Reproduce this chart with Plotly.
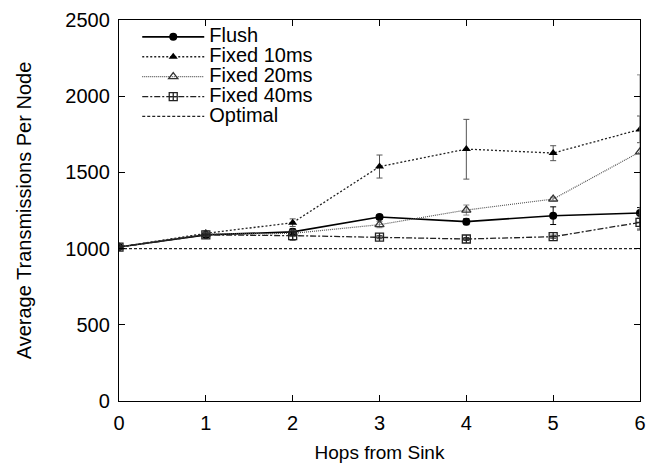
import plotly.graph_objects as go

hops = [0, 1, 2, 3, 4, 5, 6]

flush = [1010, 1090, 1110, 1207, 1177, 1216, 1234]
flush_err = [0, 15, 20, 15, 20, 58, 35]

fixed10 = [1010, 1100, 1170, 1538, 1653, 1627, 1782]
fixed10_err_hi = [0, 15, 25, 76, 195, 48, 88]
fixed10_err_lo = [0, 15, 25, 75, 197, 50, 87]

fixed20 = [1010, 1095, 1100, 1157, 1253, 1325, 1635]
fixed20_err_hi = [0, 12, 20, 20, 33, 12, 505]
fixed20_err_lo = [0, 12, 20, 20, 33, 12, 505]

fixed40 = [1010, 1090, 1085, 1075, 1063, 1078, 1172]
fixed40_err = [0, 10, 30, 10, 10, 10, 50]

optimal = [1000] * 7

font = "Liberation Sans, Arial, sans-serif"


def lbl(s):
    # bigger text in the legend while keeping tight row spacing
    return '<span style="font-size:20px">' + s + '</span>'


fig = go.Figure()

fig.add_trace(go.Scatter(
    x=hops, y=flush, name=lbl("Flush"), mode="lines+markers",
    line=dict(color="black", width=1.6),
    marker=dict(symbol="circle", size=8, color="black"),
    error_y=dict(type="data", array=flush_err, color="black", thickness=1, width=3),
))
fig.add_trace(go.Scatter(
    x=hops, y=fixed10, name=lbl("Fixed 10ms"), mode="lines+markers",
    line=dict(color="#222222", width=1.3, dash="2px,2px"),
    marker=dict(symbol="triangle-up", size=8, color="black"),
    error_y=dict(type="data", array=fixed10_err_hi, arrayminus=fixed10_err_lo,
                 color="#555555", thickness=1, width=3),
))
fig.add_trace(go.Scatter(
    x=hops, y=fixed20, name=lbl("Fixed 20ms"), mode="lines+markers",
    line=dict(color="#555555", width=1.2, dash="1px,1px"),
    marker=dict(symbol="triangle-up-open", size=8, color="#333333", line=dict(width=1.3)),
    error_y=dict(type="data", array=fixed20_err_hi, arrayminus=fixed20_err_lo,
                 color="#888888", thickness=1, width=3),
))
fig.add_trace(go.Scatter(
    x=hops, y=fixed40, name=lbl("Fixed 40ms"), mode="lines+markers",
    line=dict(color="#222222", width=1.3, dash="6px,2px,2px,2px"),
    marker=dict(symbol="square-cross-open", size=8, color="#222222", line=dict(width=1.3)),
    error_y=dict(type="data", array=fixed40_err, color="#333333", thickness=1, width=3),
))
fig.add_trace(go.Scatter(
    x=hops, y=optimal, name=lbl("Optimal"), mode="lines",
    line=dict(color="#222222", width=1.2, dash="3px,2px"),
))

axis_common = dict(
    showline=True, linecolor="black", linewidth=1.3, mirror="ticks",
    ticks="inside", ticklen=6, tickcolor="black", tickwidth=1,
    showgrid=False, zeroline=False, automargin=False,
    tickfont=dict(family=font, size=20, color="black"),
)

fig.update_layout(
    width=654, height=464,
    margin=dict(l=119, r=14, t=20, b=63),
    paper_bgcolor="white", plot_bgcolor="white",
    font=dict(family=font, size=17, color="black"),
    showlegend=True,
    legend=dict(x=0.035, y=0.995, xanchor="left", yanchor="top",
                bgcolor="rgba(0,0,0,0)", font=dict(size=13),
                tracegroupgap=0, itemwidth=62),
    xaxis=dict(range=[0, 6], dtick=1, ticklabelstandoff=4,
               title=dict(text="Hops from Sink", standoff=12, font=dict(size=19)), **axis_common),
    yaxis=dict(range=[0, 2500], dtick=500, ticklabelstandoff=4,
               title=dict(text="Average Transmissions Per Node", standoff=28, font=dict(size=20)), **axis_common),
)

fig.write_html("out.html", config={"displayModeBar": False},
               post_script="document.body.style.margin='0';")
